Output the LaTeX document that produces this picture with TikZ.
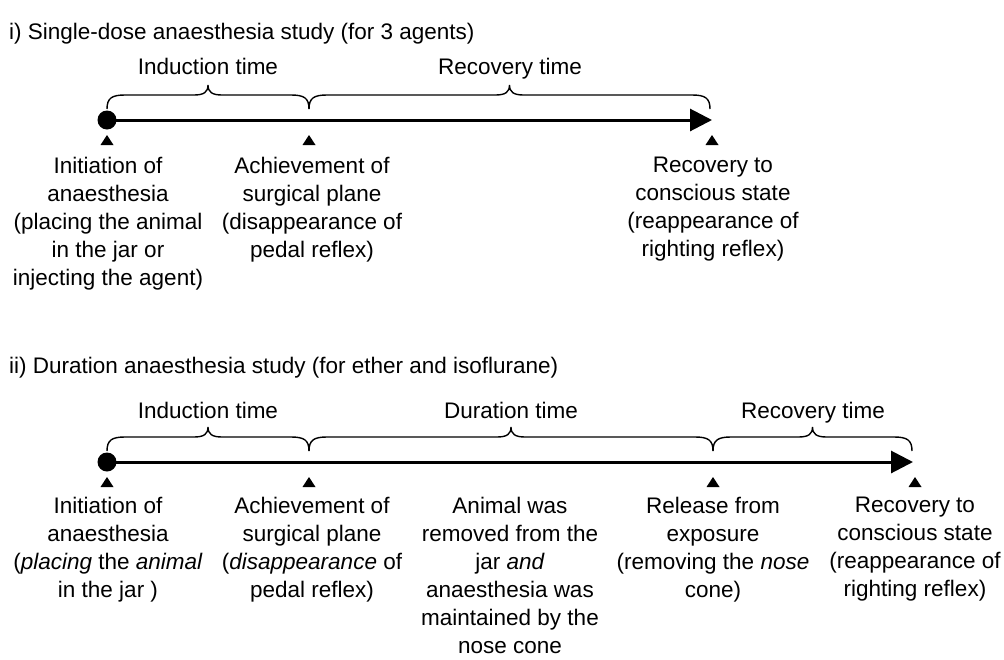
\documentclass[tikz,border=0pt]{standalone}
\usepackage{fontspec}
\setmainfont{Liberation Sans}
\usetikzlibrary{arrows.meta}
\tikzset{
  lbl/.style={font=\fontsize{22.5}{28}\selectfont, inner sep=0pt},
  col/.style={lbl, align=center, anchor=north},
  axis/.style={line width=3pt, -{Triangle[length=22pt,width=22pt]}},
  dot/.style={circle, fill=black, minimum size=19pt, inner sep=0pt},
  bracestyle/.style={line width=1.4pt},
}
\newcommand\mymark[2]{\fill (#1-6.5,#2+25) -- (#1+6.5,#2+25) -- (#1,#2+15) -- cycle;}
\newcommand\mybrace[3]{%
  \pgfmathsetmacro\xm{(#1+#2)/2}%
  \draw[bracestyle] (#1,#3-11) .. controls (#1,#3-22) and (#1+5,#3-25) .. (#1+18,#3-25)
    -- (\xm-14,#3-25) .. controls (\xm-4,#3-25) and (\xm,#3-28) .. (\xm,#3-35)
    .. controls (\xm,#3-28) and (\xm+4,#3-25) .. (\xm+14,#3-25)
    -- (#2-18,#3-25) .. controls (#2-5,#3-25) and (#2,#3-22) .. (#2,#3-11);}
\begin{document}
\begin{tikzpicture}[x=1pt,y=-1pt]
\useasboundingbox (0,0) rectangle (1004,659);

% ---------- i) ----------
\node[lbl, anchor=base west] (t1) at (9,39.5) {i) Single-dose anaesthesia study (for 3 agents)};
\node[dot] (d1) at (107,120) {};
\coordinate (e1) at (712,120);
\draw[axis] (d1.center) -- (e1);
\mybrace{107}{309}{120}
\mybrace{309}{710}{120}
\node[lbl, anchor=base] (b1) at (208,74) {Induction time};
\node[lbl, anchor=base] (b2) at (510,74) {Recovery time};
\mymark{107}{120}
\mymark{309}{120}
\mymark{712}{120}
\node[col] (a1) at (108,157) {Initiation of\\anaesthesia\\(placing the animal\\in the jar or\\injecting the agent)};
\node[col] (a2) at (312,157) {Achievement of\\surgical plane\\(disappearance of\\pedal reflex)};
\node[col] (a3) at (713,157) {Recovery to\\conscious state\\(reappearance of\\righting reflex)};

% ---------- ii) ----------
\node[lbl, anchor=base west] (t2) at (9,373) {ii) Duration anaesthesia study (for ether and isoflurane)};
\node[dot] (d2) at (107,462) {};
\coordinate (e2) at (913,462);
\draw[axis] (d2.center) -- (e2);
\mybrace{107}{309}{462}
\mybrace{309}{713}{462}
\mybrace{713}{912}{462}
\node[lbl, anchor=base] (c1) at (208,418) {Induction time};
\node[lbl, anchor=base] (c2) at (511,418) {Duration time};
\node[lbl, anchor=base] (c3) at (813,418) {Recovery time};
\mymark{107}{462}
\mymark{309}{462}
\mymark{713}{462}
\mymark{915}{462}
\node[col] (m1) at (108,497) {Initiation of\\anaesthesia\\(\textit{placing} the \textit{animal}\\in the jar )};
\node[col] (m2) at (312,497) {Achievement of\\surgical plane\\(\textit{disappearance} of\\pedal reflex)};
\node[col] (m3) at (510,497) {Animal was\\removed from the\\jar \textit{and}\\anaesthesia was\\maintained by the\\nose cone};
\node[col] (m4) at (713,497) {Release from\\exposure\\(removing the \textit{nose}\\cone)};
\node[col] (m5) at (915,497) {Recovery to\\conscious state\\(reappearance of\\righting reflex)};
\end{tikzpicture}
\end{document}
